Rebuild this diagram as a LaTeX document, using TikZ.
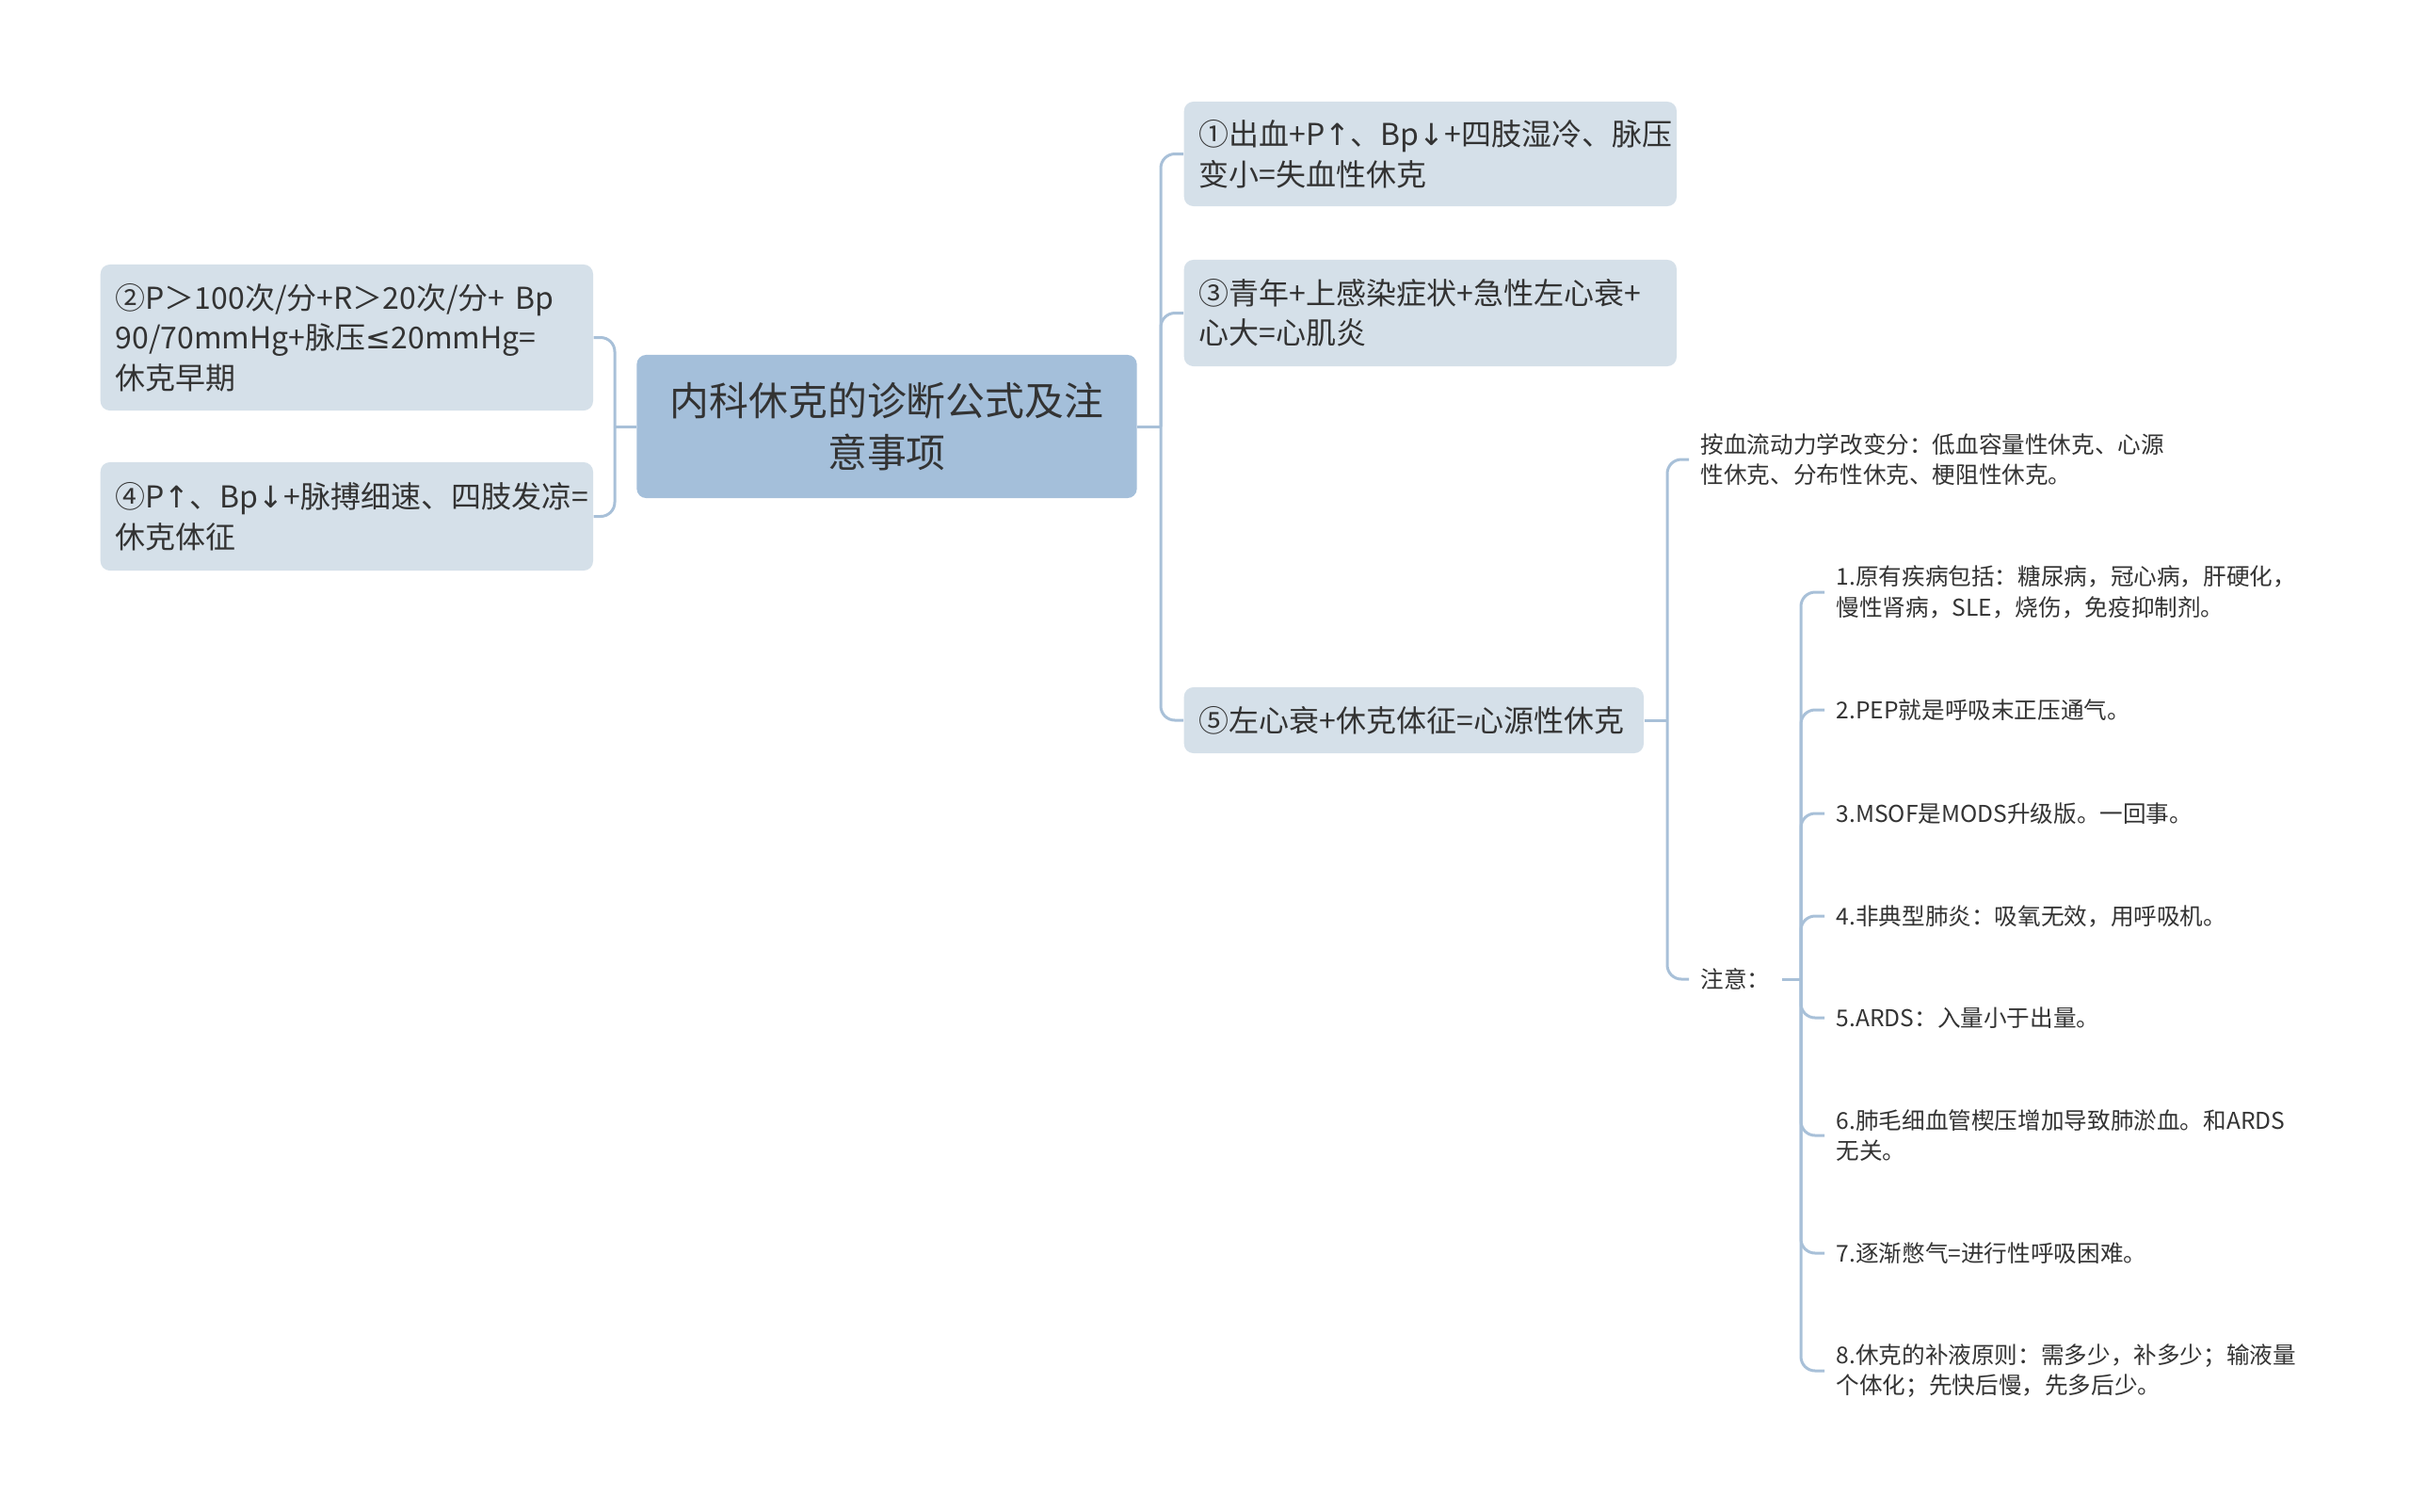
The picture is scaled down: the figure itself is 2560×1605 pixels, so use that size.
\documentclass[tikz,border=0pt]{standalone}
\usepackage{fontspec}
\setmainfont{Noto Sans CJK SC}
\newfontfamily\symfont{DejaVu Sans}
\usepackage{xcolor}
\definecolor{rootfill}{HTML}{A4BFDA}
\definecolor{boxfill}{HTML}{D5E0E9}
\definecolor{linecol}{HTML}{A8C0D8}
\definecolor{txt}{HTML}{333333}
\newcommand{\up}{{\symfont ↑}}
\newcommand{\down}{{\symfont ↓}}
\newcommand{\atmost}{{\symfont ≤}}

\begin{document}
\begin{tikzpicture}[x=0.01cm,y=-0.01cm,
    root/.style={fill=rootfill, text=txt, rounded corners=0.1cm, align=center, minimum width=5.31cm, minimum height=1.52cm, font=\fontsize{11.9}{15.7}\selectfont},
    topic/.style={fill=boxfill, text=txt, rounded corners=0.1cm, align=left, anchor=west, inner xsep=0.16cm, font=\fontsize{9.1}{12.1}\selectfont},
    leaf/.style={text=txt, anchor=west, align=left, inner xsep=0.12cm, font=\fontsize{7}{9.3}\selectfont},
    conn/.style={draw=linecol, line width=0.03cm},
    elbow/.style={conn, rounded corners=0.15cm}]

    \useasboundingbox (0,0) rectangle (2560,1605);

    % Central topic
    \node[root] (root) at (942,453) {内科休克的诊断公式及注\\意事项};

    % Left branches
    \node[topic, text width=4.91cm, minimum height=1.55cm] (early) at (106,358.5) {②P＞100次/分+R＞20次/分+~Bp\\90/70mmHg+脉压\atmost20mmHg=\\休克早期};
    \node[topic, text width=4.91cm, minimum height=1.15cm] (signs) at (106,548.5) {④P\up、Bp\down+脉搏细速、四肢发凉=\\休克体征};

    % Right branches
    \node[topic, text width=4.91cm, minimum height=1.11cm] (bleed) at (1257,163.5) {①出血+P\up、Bp\down+四肢湿冷、脉压\\变小=失血性休克};
    \node[topic, text width=4.91cm, minimum height=1.13cm] (myo) at (1257,332.5) {③青年+上感染症状+急性左心衰+\\心大=心肌炎};
    \node[topic, text width=4.56cm, minimum height=0.70cm] (cardio) at (1257,765) {⑤左心衰+休克体征=心源性休克};

    % Under the fifth branch
    \node[leaf] (hemo) at (1794,488) {按血流动力学改变分：低血容量性休克、心源\\性休克、分布性休克、梗阻性休克。};
    \node[leaf] (note) at (1794,1040) {注意：};

    % Notes
    \node[leaf] (n1) at (1938,629) {1.原有疾病包括：糖尿病，冠心病，肝硬化，\\慢性肾病，SLE，烧伤，免疫抑制剂。};
    \node[leaf] (n2) at (1938,754) {2.PEP就是呼吸末正压通气。};
    \node[leaf] (n3) at (1938,864) {3.MSOF是MODS升级版。一回事。};
    \node[leaf] (n4) at (1938,973) {4.非典型肺炎：吸氧无效，用呼吸机。};
    \node[leaf] (n5) at (1938,1081) {5.ARDS：入量小于出量。};
    \node[leaf] (n6) at (1938,1206) {6.肺毛细血管楔压增加导致肺淤血。和ARDS\\无关。};
    \node[leaf] (n7) at (1938,1331) {7.逐渐憋气=进行性呼吸困难。};
    \node[leaf] (n8) at (1938,1456) {8.休克的补液原则：需多少，补多少；输液量\\个体化；先快后慢，先多后少。};

    % Connectors from the central topic
    \coordinate (rj) at (1233,453);
    \coordinate (lj) at (653,453);
    \draw[conn] (root.east) -- (rj);
    \draw[elbow] (rj) |- (bleed.west);
    \draw[elbow] (rj) |- (myo.west);
    \draw[elbow] (rj) |- (cardio.west);
    \draw[conn] (root.west) -- (lj);
    \draw[elbow] (lj) |- (early.east);
    \draw[elbow] (lj) |- (signs.east);

    % Connectors from the fifth branch
    \coordinate (cj) at (1771,765);
    \draw[conn] (cardio.east) -- (cj);
    \draw[elbow] (cj) |- (hemo.west);
    \draw[elbow] (cj) |- (note.west);

    % Connectors to the notes
    \coordinate (nj) at (1913,1040);
    \draw[conn] (note.east) -- (nj);
    \draw[elbow] (nj) |- (n1.west);
    \draw[elbow] (nj) |- (n2.west);
    \draw[elbow] (nj) |- (n3.west);
    \draw[elbow] (nj) |- (n4.west);
    \draw[elbow] (nj) |- (n5.west);
    \draw[elbow] (nj) |- (n6.west);
    \draw[elbow] (nj) |- (n7.west);
    \draw[elbow] (nj) |- (n8.west);

\end{tikzpicture}
\end{document}
